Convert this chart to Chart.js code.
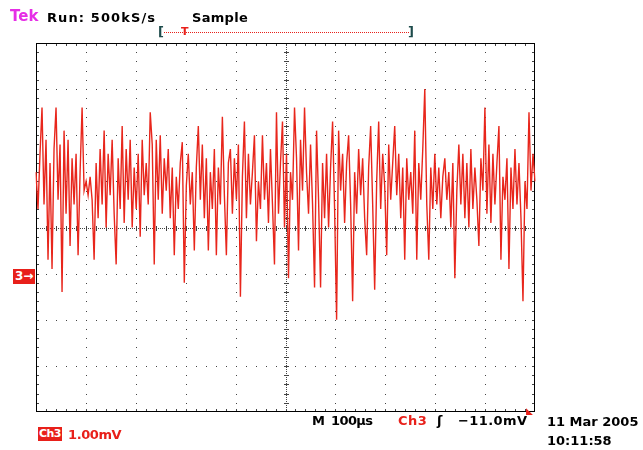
<!DOCTYPE html>
<html>
<head>
<meta charset="utf-8">
<script src="https://cdn.jsdelivr.net/npm/chart.js@4.4.1/dist/chart.umd.min.js"></script>
<style>
  body { margin: 0; background: #fff; }
  #wrap { position: relative; width: 643px; height: 450px; overflow: hidden; }
  #scope { position: absolute; left: 0; top: 0; }
  .t { position: absolute; font-family: "DejaVu Sans", sans-serif; font-size: 13px; font-weight: bold; line-height: 15px; white-space: nowrap; color: #000; }
  .red { color: #e8201a; }
  .box { background: #e8201a; color: #fff; padding: 0 1px; }
</style>
</head>
<body>
<div id="wrap">
  <canvas id="scope" width="643" height="450"></canvas>
  <div class="t" style="left:10px;top:9px;font-size:15px;color:#e62ee6">Tek</div>
  <div class="t" style="left:47px;top:10px;letter-spacing:1.1px">Run: 500kS/s</div>
  <div class="t" style="left:192px;top:10px;letter-spacing:0.3px">Sample</div>
  <div class="t" style="left:158px;top:24px;color:#1d4b4b">[</div>
  <div style="position:absolute;left:164px;top:32px;width:245px;border-top:1px dotted #e8201a"></div>
  <div class="t red" style="left:181px;top:24px;font-size:11px">T</div>
  <div class="t" style="left:408px;top:24px;color:#1d4b4b">]</div>

  <div class="t box" style="left:13px;top:269px;font-size:12px;padding:0 2px">3→</div>

  <div class="t" style="left:312px;top:413px">M</div>
  <div class="t" style="left:331px;top:413px;letter-spacing:-0.6px">100µs</div>
  <div class="t red" style="left:398px;top:413px;letter-spacing:0.5px">Ch3</div>
  <div class="t" style="left:437px;top:413px">ʃ</div>
  <div class="t" style="left:458px;top:413px;letter-spacing:0.4px">−11.0mV</div>
  <div class="t red" style="left:526px;top:404px;font-size:9px">◣</div>
  <div class="t" style="left:547px;top:414px">11 Mar 2005</div>
  <div class="t" style="left:547px;top:433px">10:11:58</div>
  <div class="t box" style="left:38px;top:427px;font-size:11px;line-height:14px;letter-spacing:-0.6px;padding:0 1px">Ch3</div>
  <div class="t red" style="left:68px;top:427px;letter-spacing:-0.4px">1.00mV</div>
</div>
<script>
// Ch3 trace, mV (ground marker sits one division below centre)
var ch3 = [
  2.2, 1.4, 2.6, 3.6, 1.5, 2.9, 0.3, 2.4, 0.1, 2.7,
  3.6, 1.6, 2.8, -0.4, 3.1, 1.3, 2.9, 0.6, 2.5, 1.5,
  2.6, 0.4, 2.2, 3.6, 1.8, 2.0, 1.7, 2.1, 1.6, 0.3,
  2.4, 1.2, 2.7, 1.5, 3.1, 1.0, 2.6, 1.7, 2.9, 1.3,
  0.2, 2.5, 1.4, 3.2, 1.1, 2.7, 1.6, 2.9, 1.0, 2.3,
  1.4, 2.6, 0.8, 2.9, 1.7, 2.4, 1.5, 3.5, 2.8, 0.2,
  2.9, 1.6, 3.0, 1.3, 2.5, 1.8, 2.7, 1.2, 2.3, 0.4,
  2.1, 1.4, 2.4, 2.85, -0.2, 1.9, 2.6, 1.5, 2.2, 0.5,
  2.3, 3.2, 1.6, 2.8, 1.2, 2.5, 0.5, 2.2, 1.4, 2.7,
  0.4, 2.3, 1.5, 3.4, 1.7, 0.4, 2.4, 2.7, 1.3, 2.5,
  1.6, 2.8, -0.5, 2.1, 3.3, 1.2, 2.6, 1.5, 2.2, 3.0,
  0.7, 2.0, 1.4, 3.0, 1.6, 2.4, 1.1, 2.7, 1.5, 0.2,
  3.5, 1.3, 2.4, 3.3, 1.0, 2.6, -0.1, 2.2, 1.6, 3.6,
  2.5, 0.5, 2.9, 1.8, 3.6, 2.2, 1.3, 2.8, 1.5, -0.3,
  3.1, 1.6, -0.3, 2.4, 1.2, 2.6, 1.0, 2.3, 3.3, 1.4,
  -1.0, 3.1, 1.8, 2.6, 1.1, 2.4, 3.0, 1.5, -0.6, 2.2,
  1.3, 2.7, 1.7, 2.5, 1.2, 0.4, 2.3, 3.2, 1.5, -0.35,
  2.0, 3.3, 1.4, 2.6, 1.9, 0.4, 2.8, 1.6, 2.4, 3.2,
  1.7, 2.6, 1.2, 2.3, 0.3, 2.5, 1.6, 2.2, 1.3, 3.1,
  0.3, 2.4, 1.6, 2.7, 4.0, 1.5, 0.3, 2.3, 1.4, 2.6,
  1.5, 2.3, 1.2, 2.1, 2.5, 1.6, 2.2, 1.0, 2.4, -0.1,
  1.8, 2.8, 1.5, 2.6, 1.2, 2.4, 1.0, 2.7, 1.4, 2.3,
  1.6, 0.6, 2.5, 1.8, 3.6, 1.3, 2.8, 1.1, 2.6, 1.5,
  2.4, 3.2, 0.3, 2.1, 1.6, 2.5, 0.1, 2.3, 1.4, 2.7,
  1.5, 2.4, 1.2, -0.6, 2.0, 1.4, 3.5, 1.8, 2.6, 2.0
];
var voltMin = -3, voltMax = 5; // 1.00 mV/div, 8 divisions
var xDivs = 10, yDivs = 8;

// scope graticule: dotted divisions, ticked centre cross, ticked border
var graticule = {
    id: 'graticule',
    beforeDatasetsDraw: function (chart) {
        var ctx = chart.ctx, a = chart.chartArea;
        var dx = (a.right - a.left) / xDivs, dy = (a.bottom - a.top) / yDivs;
        ctx.save();
        ctx.fillStyle = '#444';
        for (var i = 1; i < xDivs; i++) {
            var x = Math.round(a.left + i * dx);
            for (var j = 1; j < yDivs * 5; j++)
                ctx.fillRect(x, Math.round(a.top + j * dy / 5), 1, 1);
        }
        for (var k = 1; k < yDivs; k++) {
            var y = Math.round(a.top + k * dy);
            for (var j = 1; j < xDivs * 5; j++)
                ctx.fillRect(Math.round(a.left + j * dx / 5), y, 1, 1);
        }
        var cx = Math.round(a.left + 5 * dx), cy = Math.round(a.top + 4 * dy);
        for (var y = a.top; y < a.bottom; y += 2) ctx.fillRect(cx, y, 1, 1);
        for (var x = a.left; x < a.right; x += 2) ctx.fillRect(x, cy, 1, 1);
        for (var j = 1; j < yDivs * 5; j++)
            ctx.fillRect(cx - 2, Math.round(a.top + j * dy / 5), 5, 1);
        for (var j = 1; j < xDivs * 5; j++)
            ctx.fillRect(Math.round(a.left + j * dx / 5), cy - 2, 1, 5);
        for (var j = 1; j < xDivs * 5; j++) {
            var x = Math.round(a.left + j * dx / 5);
            ctx.fillRect(x, a.top, 1, 3);
            ctx.fillRect(x, a.bottom - 3, 1, 3);
        }
        for (var j = 1; j < yDivs * 5; j++) {
            var y = Math.round(a.top + j * dy / 5);
            ctx.fillRect(a.left, y, 3, 1);
            ctx.fillRect(a.right - 3, y, 3, 1);
        }
        ctx.strokeStyle = '#000';
        ctx.lineWidth = 1;
        ctx.strokeRect(a.left + 0.5, a.top + 0.5, a.right - a.left - 1, a.bottom - a.top - 1);
        ctx.restore();
    }
};

new Chart("scope", {
    type: "line",
    data: {
        labels: ch3.map(function (v, i) { return i; }),
        datasets: [{
            data: ch3,
            borderColor: "#e8261c",
            borderWidth: 1.4,
            pointRadius: 0,
            tension: 0,
            fill: false
        }]
    },
    options: {
        responsive: false,
        devicePixelRatio: 1,
        animation: false,
        layout: {padding: {left: 36, right: 108, top: 43, bottom: 38}},
        plugins: {legend: {display: false}, tooltip: {enabled: false}},
        scales: {
            x: {display: false, offset: false},
            y: {display: false, min: voltMin, max: voltMax}
        }
    },
    plugins: [graticule]
});
</script>
</body>
</html>
